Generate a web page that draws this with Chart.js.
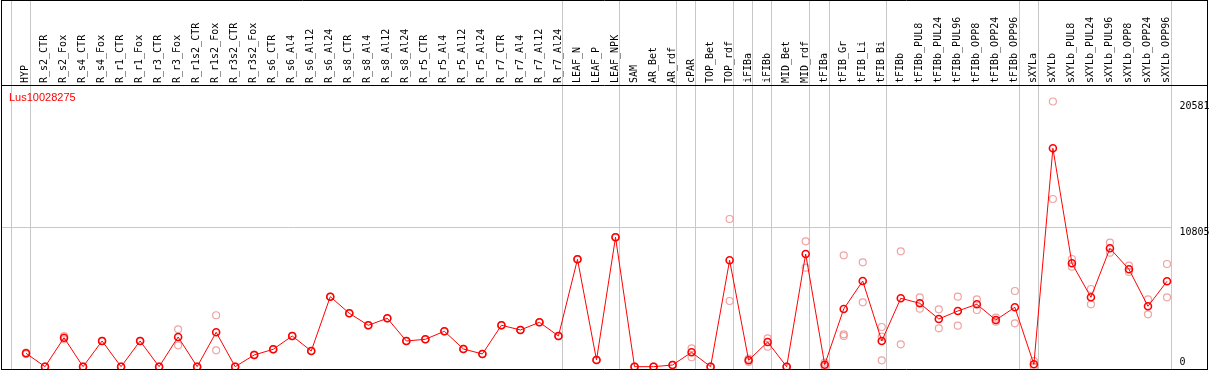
<!DOCTYPE html>
<html><head><meta charset="utf-8">
<script src="https://cdn.jsdelivr.net/npm/chart.js@4.4.1/dist/chart.umd.min.js"></script>
<style>html,body{margin:0;padding:0;background:#fff;overflow:hidden;}</style>
</head><body>
<canvas id="c" width="1209" height="370"></canvas>
<script>
const geneName = 'Lus10028275';
const categories = ['HYP','R_s2_CTR','R_s2_Fox','R_s4_CTR','R_s4_Fox','R_r1_CTR','R_r1_Fox','R_r3_CTR','R_r3_Fox','R_r1s2_CTR','R_r1s2_Fox','R_r3s2_CTR','R_r3s2_Fox','R_s6_CTR','R_s6_Al4','R_s6_Al12','R_s6_Al24','R_s8_CTR','R_s8_Al4','R_s8_Al12','R_s8_Al24','R_r5_CTR','R_r5_Al4','R_r5_Al12','R_r5_Al24','R_r7_CTR','R_r7_Al4','R_r7_Al12','R_r7_Al24','LEAF_N','LEAF_P','LEAF_NPK','SAM','AR_Bet','AR_rdf','cPAR','TOP_Bet','TOP_rdf','iFIBa','iFIBb','MID_Bet','MID_rdf','tFIBa','tFIB_Gr','tFIB_Li','tFIB_Bi','tFIBb','tFIBb_PUL8','tFIBb_PUL24','tFIBb_PUL96','tFIBb_OPP8','tFIBb_OPP24','tFIBb_OPP96','sXYLa','sXYLb','sXYLb_PUL8','sXYLb_PUL24','sXYLb_PUL96','sXYLb_OPP8','sXYLb_OPP24','sXYLb_OPP96'];
const meanValues = [1040,0,2250,0,1994,0,1994,0,2305,0,2670,0,908,1350,2382,1218,5432,4144,3213,3756,1994,2126,2747,1374,986,3213,2848,3445,2382,8334,520,10041,0,0,130,1117,0,8257,497,1917,0,8745,155,4477,6650,1994,5308,4920,3702,4322,4842,3624,4609,186,16948,8024,5385,9188,7558,4687,6627];
const replicateValues = [[1100,980],[0,0],[2380,2120],[0,0],[2000,1990],[0,0],[2000,1990],[0,0],[2902,1660],[0,0],[3990,1270],[0,0],[930,890],[1360,1340],[2390,2370],[1230,1210],[5440,5420],[4150,4140],[3220,3200],[3760,3750],[2000,1990],[2130,2120],[2750,2740],[1380,1370],[990,980],[3220,3200],[2850,2840],[3450,3440],[2390,2370],[8340,8330],[530,510],[10050,10030],[0,0],[0,0],[140,120],[1428,730],[0,0],[11461,5098],[620,365],[2204,1552],[0,0],[9731,7682],[310,0],[8645,2514,2382],[8101,4997],[3081,2328,497],[8955,1738],[5385,4500],[4454,2980],[5432,3182],[5230,4400],[3800,3492],[5874,3368],[442,0],[20581,13013],[8357,7760],[6030,4842],[9622,8846],[7838,7349],[5230,4066],[7970,5385]];
const yTickValues = [20581, 10805, 0];
const gridValues = [10805];
const groupEnds = [-1,0,28,31,34,35,37,38,39,41,42,45,52,53,60];

const replicatePoints = [];
categories.forEach((c, i) => replicateValues[i].forEach(v => replicatePoints.push({x: c, y: v})));

const decor = {
  id: 'decor',
  beforeDatasetsDraw(chart) {
    const ctx = chart.ctx, xs = chart.scales.x, ys = chart.scales.y, a = chart.chartArea;
    const W = chart.width, H = chart.height;
    ctx.save();
    ctx.lineWidth = 1;
    ctx.strokeStyle = '#c8c8c8';
    const step = xs.getPixelForValue(1) - xs.getPixelForValue(0);
    let lastSep = 0;
    groupEnds.forEach(g => {
      const px = Math.round(xs.getPixelForValue(g) + 0.2 * step) + 0.5;
      lastSep = px;
      ctx.beginPath(); ctx.moveTo(px, 0); ctx.lineTo(px, a.bottom); ctx.stroke();
    });
    gridValues.forEach(v => {
      const py = Math.round(ys.getPixelForValue(v)) + 0.5;
      ctx.beginPath(); ctx.moveTo(1, py); ctx.lineTo(lastSep, py); ctx.stroke();
    });
    ctx.strokeStyle = '#000';
    ctx.beginPath();
    ctx.moveTo(1.5, 0); ctx.lineTo(1.5, a.bottom + 0.5);
    ctx.moveTo(W - 1.5, 0); ctx.lineTo(W - 1.5, a.bottom + 0.5);
    ctx.moveTo(1, 0.5); ctx.lineTo(W - 1, 0.5);
    ctx.moveTo(1, Math.round(a.top) + 0.5); ctx.lineTo(W - 1, Math.round(a.top) + 0.5);
    ctx.moveTo(1, Math.round(a.bottom) + 0.5); ctx.lineTo(W - 1, Math.round(a.bottom) + 0.5);
    ctx.stroke();
    ctx.fillStyle = '#000';
    ctx.font = '10px "DejaVu Sans Mono"';
    ctx.textAlign = 'left';
    ctx.textBaseline = 'middle';
    yTickValues.forEach(v => {
      let py = ys.getPixelForValue(v) + 5;
      if (py > a.bottom - 6) py = ys.getPixelForValue(v) - 4.5;
      ctx.fillText(String(v), lastSep + 8, py);
    });
    ctx.fillStyle = '#ff0000';
    ctx.font = '11px "Liberation Sans"';
    ctx.fillText(geneName, 9, Math.round(a.top) + 12.5);
    ctx.restore();
  }
};

new Chart(document.getElementById('c'), {
  type: 'line',
  data: {
    labels: categories,
    datasets: [
      {
        data: meanValues,
        borderColor: '#ff0000',
        borderWidth: 1,
        pointRadius: 3.5,
        pointBorderWidth: 1.6,
        pointBorderColor: '#ff0000',
        pointBackgroundColor: 'rgba(0,0,0,0)',
        tension: 0,
        fill: false
      },
      {
        data: replicatePoints,
        showLine: false,
        pointRadius: 3.5,
        pointBorderWidth: 1.2,
        pointBorderColor: 'rgba(235,140,140,0.8)',
        pointBackgroundColor: 'rgba(0,0,0,0)'
      }
    ]
  },
  options: {
    responsive: false,
    animation: false,
    devicePixelRatio: 1,
    layout: { autoPadding: false, padding: { left: 26, right: 42, top: 0, bottom: 1 } },
    plugins: { legend: { display: false }, tooltip: { enabled: false }, title: { display: false } },
    scales: {
      x: {
        type: 'category',
        position: 'top',
        offset: false,
        grid: { display: false, drawTicks: false },
        border: { display: false },
        ticks: { autoSkip: false, minRotation: 90, maxRotation: 90, padding: 2, labelOffset: 11.5, color: '#000', font: { family: 'DejaVu Sans Mono', size: 10 } },
        afterFit(scale) { scale.height = 85; }
      },
      y: { display: false, min: -180, max: 21860 }
    }
  },
  plugins: [decor]
});
</script>
</body></html>
